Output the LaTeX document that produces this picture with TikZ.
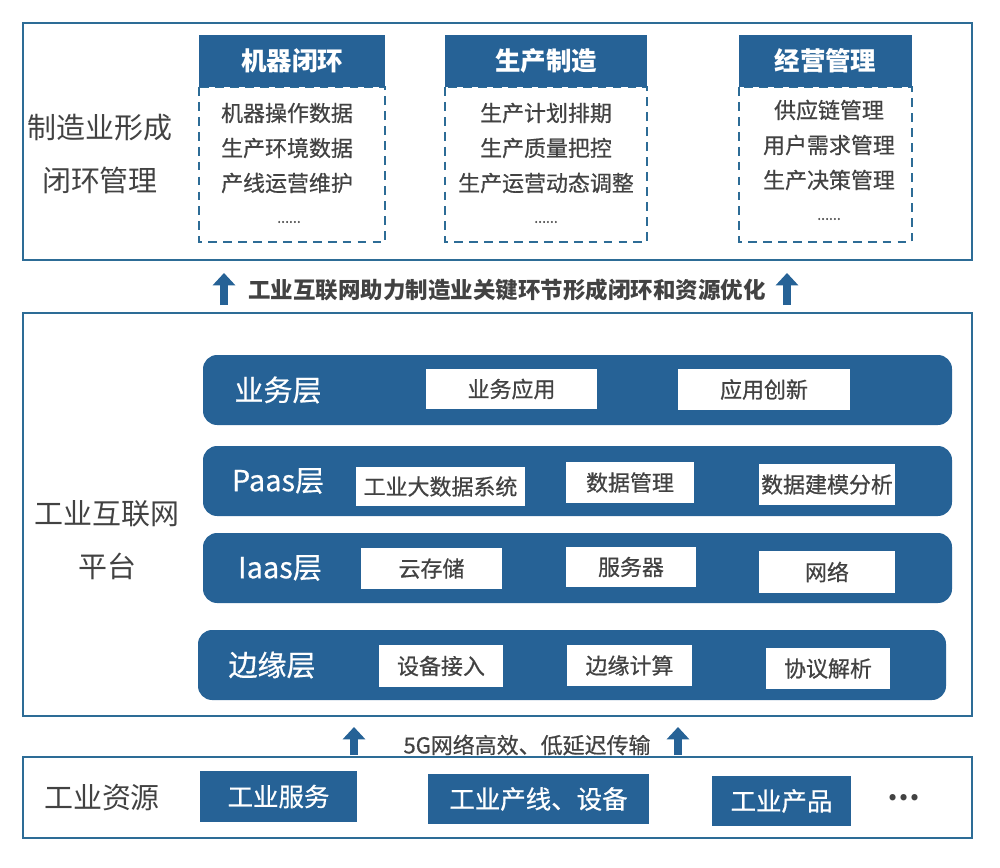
\documentclass[tikz,border=0pt]{standalone}
\usepackage{fontspec}
\setmainfont{Noto Sans CJK SC}
\newfontfamily\medfont{Noto Sans CJK SC}[FakeBold=0.6]
\usetikzlibrary{arrows.meta}
\definecolor{darkblue}{RGB}{38,98,150}
\definecolor{framecol}{RGB}{45,108,150}
\definecolor{labelgray}{RGB}{66,66,66}

\begin{document}
\begin{tikzpicture}[x=0.02cm,y=-0.02cm,
    frame/.style={draw=framecol,line width=1.3pt},
    dashbox/.style={draw=framecol,line width=1.4pt,dash pattern=on 5pt off 3.5pt},
    headbox/.style={fill=darkblue},
    bar/.style={fill=darkblue,rounded corners=8pt},
    wbox/.style={fill=white},
    bigtext/.style={text=labelgray,align=center,font=\fontsize{16.5pt}{30pt}\selectfont},
    headtext/.style={text=white,font=\fontsize{14.5pt}{17pt}\selectfont\bfseries},
    itemtext/.style={text=labelgray,font=\fontsize{12.5pt}{15pt}\medfont},
    layertext/.style={text=white,font=\fontsize{16.5pt}{19pt}\medfont},
    arrowtext/.style={text=labelgray,font=\fontsize{12.8pt}{15pt}\selectfont\bfseries},
    uparrow/.style={draw=darkblue,line width=4.5pt,-{Triangle[width=12.5pt,length=7pt]}}]

    \useasboundingbox (0,0) rectangle (1000,868);

    \draw[frame] (23,23) rectangle (972,260);
    \draw[frame] (23,313) rectangle (972,716);
    \draw[frame] (23,757) rectangle (972,838);

    \node[bigtext] (zzgl) at (100,154) {制造业形成\\闭环管理};

    \draw[dashbox] (199,87) rectangle (385,242);
    \draw[dashbox] (445,87) rectangle (647,242);
    \draw[dashbox] (739,87) rectangle (912,242);
    \fill[headbox] (199,35) rectangle (385,87);
    \fill[headbox] (445,35) rectangle (647,87);
    \fill[headbox] (739,35) rectangle (912,87);

    \node[headtext] (jqbh) at (292,61) {机器闭环};
    \node[headtext] (sczz) at (546,61) {生产制造};
    \node[headtext] (jygl) at (825.5,61) {经营管理};

    \node[itemtext] (jq1) at (287,113) {机器操作数据};
    \node[itemtext] (jq2) at (287,148) {生产环境数据};
    \node[itemtext] (jq3) at (287,183) {产线运营维护};
    \node[itemtext,font=\fontsize{8pt}{10pt}\medfont] (jq4) at (289,222) {......};

    \node[itemtext] (sc1) at (546,113) {生产计划排期};
    \node[itemtext] (sc2) at (546,148) {生产质量把控};
    \node[itemtext] (sc3) at (546,183) {生产运营动态调整};
    \node[itemtext,font=\fontsize{8pt}{10pt}\medfont] (sc4) at (546,222) {......};

    \node[itemtext] (jy1) at (829,110) {供应链管理};
    \node[itemtext] (jy2) at (829,145) {用户需求管理};
    \node[itemtext] (jy3) at (829,180) {生产决策管理};
    \node[itemtext,font=\fontsize{8pt}{10pt}\medfont] (jy4) at (829,219) {......};

    \coordinate (t1s) at (224,305);
    \coordinate (t1e) at (224,273);
    \coordinate (t2s) at (787,305);
    \coordinate (t2e) at (787,273);
    \draw[uparrow] (t1s)--(t1e);
    \draw[uparrow] (t2s)--(t2e);
    \node[arrowtext] (zl) at (507,290) {工业互联网助力制造业关键环节形成闭环和资源优化};

    \node[bigtext] (ptl) at (107,540) {工业互联网\\平台};

    \fill[bar] (203,355) rectangle (952,425);
    \fill[bar] (203,446) rectangle (952,516);
    \fill[bar] (203,533) rectangle (952,603);
    \fill[bar] (198,630) rectangle (946,700);

    \node[layertext] (ywc) at (278,390) {业务层};
    \node[layertext] (paas) at (278,481) {Paas层};
    \node[layertext] (iaas) at (280,568) {Iaas层};
    \node[layertext] (byc) at (272,665) {边缘层};

    \fill[wbox] (426,369) rectangle (597,409);
    \fill[wbox] (678,369) rectangle (850,410);
    \fill[wbox] (356,467) rectangle (525,506);
    \fill[wbox] (566,462) rectangle (694,503);
    \fill[wbox] (759,464) rectangle (895,505);
    \fill[wbox] (361,548) rectangle (502,589);
    \fill[wbox] (566,547) rectangle (696,587);
    \fill[wbox] (759,551) rectangle (895,593);
    \fill[wbox] (379,645) rectangle (503,687);
    \fill[wbox] (567,645) rectangle (692,686);
    \fill[wbox] (766,648) rectangle (890,689);

    \node[itemtext] (ywyy) at (511.5,389) {业务应用};
    \node[itemtext] (yycx) at (764,389.5) {应用创新};
    \node[itemtext] (dsj) at (440.5,486.5) {工业大数据系统};
    \node[itemtext] (sjgl) at (630,482.5) {数据管理};
    \node[itemtext] (sjjm) at (827,484.5) {数据建模分析};
    \node[itemtext] (ycc) at (431.5,568.5) {云存储};
    \node[itemtext] (fwq) at (631,567) {服务器};
    \node[itemtext] (wl) at (827,572) {网络};
    \node[itemtext] (sbjr) at (441,666) {设备接入};
    \node[itemtext] (byjs) at (629.5,665.5) {边缘计算};
    \node[itemtext] (xyjx) at (828,668.5) {协议解析};

    \coordinate (b1s) at (354,755);
    \coordinate (b1e) at (354,727);
    \coordinate (b2s) at (678,755);
    \coordinate (b2e) at (678,727);
    \draw[uparrow] (b1s)--(b1e);
    \draw[uparrow] (b2s)--(b2e);
    \node[arrowtext,font=\fontsize{12.5pt}{15pt}\medfont] (cs) at (527,745) {5G网络高效、低延迟传输};

    \node[bigtext] (gyzy) at (102,798) {工业资源};

    \fill[headbox] (200,771) rectangle (357,822);
    \fill[headbox] (428,774) rectangle (649,824);
    \fill[headbox] (712,776) rectangle (851,826);
    \node[headtext,font=\fontsize{14.5pt}{17pt}\medfont] (gyfw) at (278.5,796.5) {工业服务};
    \node[headtext,font=\fontsize{14.5pt}{17pt}\medfont] (gycx) at (538.5,799) {工业产线、设备};
    \node[headtext,font=\fontsize{14.5pt}{17pt}\medfont] (gycp) at (781.5,801) {工业产品};
    \node[bigtext,font=\fontsize{16.5pt}{19pt}\bfseries] (more) at (904,798) {…};
\end{tikzpicture}
\end{document}
